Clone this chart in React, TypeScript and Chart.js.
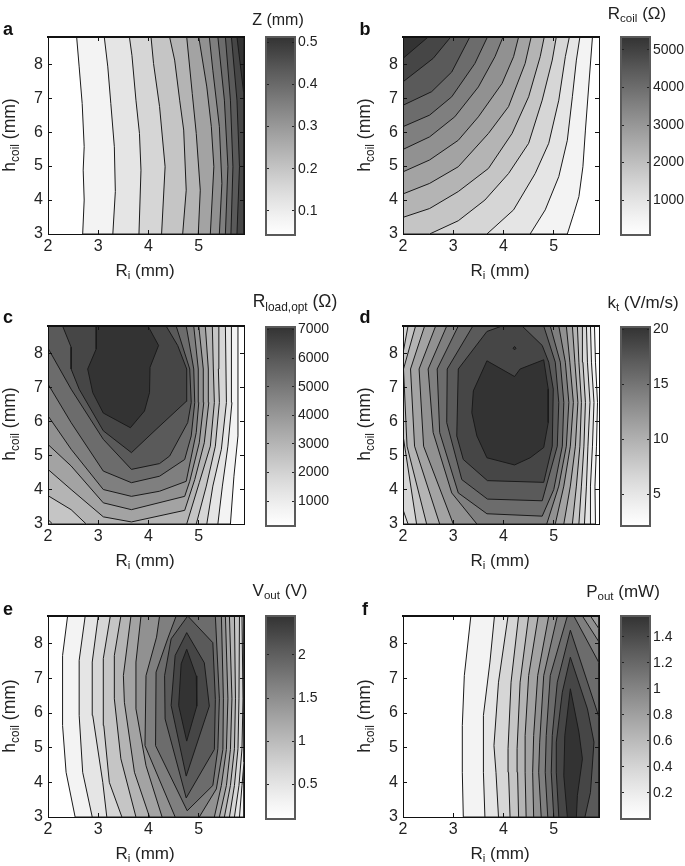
import React, { useEffect, useRef } from "react";
import { Chart, registerables } from "chart.js";

Chart.register(...registerables);

type P = number[];
const TL: P = [2, 8.8];
const TR: P = [5.9, 8.8];
const BL: P = [2, 3];
const BR: P = [5.9, 3];

const rTicks = [2, 3, 4, 5];
const hTicks = [3, 4, 5, 6, 7, 8];

// Each list holds the level curves of one panel, lowest level first.
const zContours: P[][] = [
  [[2.69,3],[2.72,4],[2.70,4.88],[2.72,5.57],[2.68,6.84],[2.62,7.92],[2.57,8.8],TR,BR],
  [[3.29,3],[3.34,4.25],[3.32,5.57],[3.25,6.84],[3.19,7.92],[3.12,8.8],TR,BR],
  [[3.81,3],[3.85,4.88],[3.82,5.96],[3.75,6.94],[3.67,8.26],[3.62,8.8],TR,BR],
  [[4.26,3],[4.33,4.98],[4.22,6.75],[4.10,8.02],[4.05,8.8],TR,BR],
  [[4.68,3],[4.75,4.29],[4.70,6.06],[4.62,6.94],[4.52,8.12],[4.42,8.8],TR,BR],
  [[4.99,3],[5.03,4.29],[4.95,5.96],[4.87,7.14],[4.76,8.8],TR,BR],
  [[5.23,3],[5.30,4.98],[5.25,6.16],[5.16,7.33],[5.00,8.8],TR,BR],
  [[5.41,3],[5.46,4.49],[5.41,6.16],[5.28,7.82],[5.21,8.8],TR,BR],
  [[5.53,3],[5.58,4.98],[5.51,6.94],[5.38,8.8],TR,BR],
  [[5.64,3],[5.68,4.98],[5.63,6.94],[5.53,8.8],TR,BR],
  [[5.76,3],[5.81,4.98],[5.76,6.94],[5.65,8.8],TR,BR],
  [[5.76,8.8],[5.89,7.2],TR],
];

const rcoilContours: P[][] = [
  [[5.27,3],[5.40,3.61],[5.50,4.10],[5.58,4.98],[5.63,6.06],[5.69,7.24],[5.77,8.8],TL,BL],
  [[4.53,3],[4.83,3.71],[5.10,4.69],[5.27,5.76],[5.37,7.04],[5.45,8.12],[5.52,8.8],TL,BL],
  [[3.67,3],[4.20,3.71],[4.63,4.78],[4.90,5.67],[5.10,6.94],[5.23,8.22],[5.31,8.8],TL,BL],
  [[2.53,3],[3.10,3.39],[3.63,4.0],[4.10,4.78],[4.50,5.67],[4.77,6.94],[4.97,8.12],[5.05,8.8],TL,BL],
  [[2,3.49],[2.53,3.75],[3.10,4.25],[3.70,4.93],[4.17,5.96],[4.50,7.04],[4.73,8.22],[4.81,8.8],TL],
  [[2,4.18],[2.53,4.49],[3.10,4.98],[3.70,5.96],[4.10,6.75],[4.43,8.02],[4.55,8.8],TL],
  [[2,4.83],[2.53,5.18],[3.10,5.76],[3.50,6.45],[3.97,7.43],[4.20,8.22],[4.30,8.8],TL],
  [[2,5.49],[2.53,5.86],[3.03,6.45],[3.50,7.33],[3.83,8.22],[3.99,8.8],TL],
  [[2,6.16],[2.53,6.5],[2.97,7.04],[3.43,8.02],[3.68,8.8],TL],
  [[2,6.79],[2.57,7.19],[2.97,7.77],[3.33,8.8],TL],
  [[2,7.48],[2.60,8.17],[2.95,8.8],TL],
  [[2,8.17],[2.50,8.8],TL],
];

const rloadContours: P[][] = [
  [BL,[5.63,3],[5.70,4.40],[5.78,5.58],[5.78,8.8],TL],
  [BL,[5.38,3],[5.47,4.11],[5.58,5.28],[5.66,6.56],[5.65,8.8],TL],
  [BL,[5.16,3],[5.28,4.11],[5.45,5.19],[5.55,6.56],[5.53,8.8],TL],
  [[2,3.13],[2.09,3],[4.95,3],[5.15,4.11],[5.33,5.28],[5.41,6.56],[5.39,7.54],[5.40,8.8],TL],
  [[2,3.83],[2.46,3.42],[2.76,3],[4.76,3],[5.01,4.21],[5.23,5.28],[5.31,6.56],[5.29,7.54],[5.27,8.8],TL],
  [[2,4.60],[2.46,4.01],[3.10,3.21],[3.66,3.06],[4.72,3.40],[4.80,3.76],[4.92,4.30],[5.11,5.38],[5.20,6.56],[5.19,7.54],[5.13,8.8],TL],
  [[2,5.33],[2.46,4.70],[3.10,3.62],[3.66,3.42],[4.72,3.81],[4.82,4.25],[5.01,5.38],[5.10,6.56],[5.09,7.54],[5.00,8.8],TL],
  [[2,6.17],[2.46,5.19],[3.10,4.01],[3.66,3.81],[4.22,3.96],[4.75,4.25],[4.95,5.68],[5.00,6.56],[4.99,7.54],[4.90,8.8],TL],
  [[2,7.10],[2.46,5.97],[3.10,4.55],[3.66,4.21],[4.22,4.40],[4.72,4.89],[4.85,5.58],[4.92,6.56],[4.90,7.54],[4.75,8.8],TL],
  [[2,8.15],[2.46,6.95],[3.10,5.48],[3.66,4.60],[4.22,4.77],[4.42,4.99],[4.78,5.97],[4.85,6.56],[4.82,7.54],[4.55,8.8],TL],
  [[2.29,8.8],[2.46,8.18],[2.46,7.54],[2.62,6.95],[3.10,5.73],[3.66,5.09],[4.15,5.77],[4.75,6.59],[4.76,7.54],[4.58,8.23],[4.35,8.8]],
  [[2.96,8.8],[2.96,8.13],[2.79,7.54],[2.89,6.85],[3.10,6.25],[3.64,5.82],[3.92,6.31],[4.02,6.85],[4.03,7.59],[4.20,8.23],[3.99,8.8]],
];

const ktContours: P[][] = [
  [BL,[5.83,3],[5.82,4.11],[5.85,5.28],[5.87,6.56],[5.83,7.74],[5.81,8.8],TL],
  [BL,[5.73,3],[5.73,4.11],[5.77,5.28],[5.80,6.56],[5.75,7.74],[5.73,8.8],TL],
  [[2,3.42],[2.10,3],[5.61,3],[5.65,4.11],[5.68,5.28],[5.72,6.56],[5.67,7.74],[5.65,8.8],TL],
  [[2.10,8.8],[2,8.0],[2,5.6],[2.27,3],[5.50,3],[5.55,4.11],[5.60,5.28],[5.63,6.56],[5.58,7.74],[5.57,8.8]],
  [[2.25,8.8],[2.01,7.54],[2.08,5.28],[2.47,3],[5.37,3],[5.45,4.11],[5.52,5.28],[5.55,6.56],[5.50,7.74],[5.47,8.8]],
  [[2.43,8.8],[2.15,7.54],[2.23,5.28],[2.73,3],[5.20,3],[5.33,4.11],[5.43,5.28],[5.48,6.56],[5.42,7.74],[5.37,8.8]],
  [[2.65,8.8],[2.32,7.54],[2.41,5.28],[3.00,3],[5.03,3],[5.20,4.11],[5.33,5.28],[5.39,6.56],[5.32,7.74],[5.25,8.8]],
  [[2.87,8.8],[2.50,7.54],[2.60,5.68],[2.97,3.91],[3.47,3],[4.86,3],[5.10,4.11],[5.25,5.28],[5.30,6.56],[5.23,7.74],[5.10,8.8]],
  [[3.10,8.8],[2.68,7.54],[2.73,5.68],[3.10,3.91],[3.67,3.30],[4.77,3.23],[5.00,4.01],[5.17,5.28],[5.20,6.56],[5.13,7.74],[4.93,8.8]],
  [[3.39,8.8],[2.88,7.54],[2.87,5.97],[3.17,4.30],[3.68,3.73],[4.77,3.68],[5.07,5.28],[5.10,6.56],[5.03,7.74],[4.80,8.8]],
  [[3.97,8.8],[3.67,8.64],[3.10,7.54],[3.07,5.58],[3.20,4.89],[3.68,4.27],[4.80,4.22],[4.97,5.28],[4.99,6.95],[4.90,7.74],[4.77,8.23],[4.37,8.8]],
  [[3.67,7.78],[4.22,7.32],[4.33,7.54],[4.80,7.81],[4.89,6.95],[4.89,5.97],[4.80,5.24],[4.53,4.94],[4.22,4.73],[3.67,4.94],[3.47,5.58],[3.37,6.26],[3.40,6.90]],
  [[4.19,8.15],[4.22,8.2],[4.25,8.15],[4.22,8.1]],
];

const voutContours: P[][] = [
  [[2.54,3],[2.36,4.29],[2.29,5.64],[2.29,7.66],[2.39,8.8],TR,BR],
  [[2.88,3],[2.69,4.29],[2.62,5.93],[2.62,7.52],[2.74,8.8],TR,[5.9,4.58],[5.86,3.91],[5.81,3]],
  [[3.17,3],[3.09,4.00],[2.89,5.93],[2.88,7.47],[3.00,8.8],[5.86,8.8],[5.88,6.41],[5.86,4.97],[5.80,3.91],[5.71,3]],
  [[3.47,3],[3.22,4.00],[3.11,5.64],[3.10,7.57],[3.24,8.8],[5.81,8.8],[5.80,6.41],[5.78,4.97],[5.71,3.91],[5.61,3]],
  [[3.75,3],[3.45,4.68],[3.32,6.41],[3.32,7.66],[3.45,8.8],[5.71,8.8],[5.73,6.41],[5.71,4.97],[5.63,3.91],[5.51,3]],
  [[4.02,3],[3.72,4.29],[3.52,6.31],[3.50,7.08],[3.65,8.8],[5.61,8.8],[5.66,6.41],[5.63,4.95],[5.55,3.91],[5.41,3]],
  [[4.27,3],[3.95,4.48],[3.75,6.12],[3.75,7.47],[3.85,8.8],[5.53,8.8],[5.58,6.41],[5.55,4.95],[5.45,3.91],[5.31,3]],
  [[4.53,3],[3.93,5.06],[3.95,7.08],[4.16,8.19],[4.22,8.8],[5.45,8.8],[5.49,6.41],[5.48,4.95],[5.35,3.81],[5.01,3]],
  [[4.77,3.18],[4.14,5.06],[4.15,7.18],[4.38,8.14],[4.55,8.8],[5.33,8.8],[5.41,6.41],[5.38,4.97],[5.28,3.91]],
  [[4.75,3.55],[4.33,5.83],[4.32,7.08],[4.45,8.14],[4.78,8.8],[5.28,8.03],[5.33,6.39],[5.31,4.95]],
  [[4.75,4.18],[4.45,6.22],[4.53,7.66],[4.76,8.32],[5.11,7.45],[5.21,6.20]],
  [[4.76,5.19],[4.60,6.22],[4.65,7.42],[4.76,7.84],[4.95,7.07],[4.96,6.20]],
];

const poutContours: P[][] = [
  [[3.20,3],[3.18,4.29],[3.18,5.64],[3.22,7.08],[3.35,8.8],TR,BR],
  [[3.63,3],[3.60,4.29],[3.60,5.93],[3.73,7.47],[3.82,8.8],TR,BR],
  [[3.90,3],[3.85,4.29],[3.81,5.06],[3.90,6.89],[4.09,8.8],TR,BR],
  [[4.13,3],[4.10,4.29],[4.09,4.97],[4.15,6.89],[4.30,8.8],TR,BR],
  [[4.30,3],[4.28,4.29],[4.27,4.97],[4.33,6.89],[4.50,8.8],TR,BR],
  [[4.45,3],[4.43,4.29],[4.43,5.35],[4.50,7.08],[4.69,8.8],TR,BR],
  [[4.60,3],[4.58,4.29],[4.60,5.35],[4.68,7.08],[4.90,8.8],[5.73,8.8],[5.9,8.43],BR],
  [[4.75,3],[4.70,4.29],[4.72,5.16],[4.80,7.08],[5.07,8.8],[5.57,8.8],[5.9,8.05],BR],
  [[4.88,3],[4.83,4.29],[4.85,5.35],[4.93,7.08],[5.27,8.8],[5.40,8.8],[5.9,7.45],BR],
  [[5.00,3],[4.95,4.29],[4.97,5.35],[5.07,6.89],[5.33,8.39],[5.9,5.88],BR],
  [[5.10,3],[5.05,4.29],[5.05,5.16],[5.17,6.60],[5.33,7.61],[5.67,6.12],[5.80,5.16],[5.73,3.71],[5.62,3]],
  [[5.27,3],[5.20,4.19],[5.22,5.35],[5.33,6.70],[5.50,5.45],[5.57,4.68],[5.47,3.62],[5.45,3]],
];

const zRange = [0.043, 0.512];
const rcoilRange = [73, 5344];
const rloadRange = [125, 7091];
const ktRange = [2.11, 20.24];
const voutRange = [0.1, 2.45];
const poutRange = [0, 1.56];

const zTicks = [0.1, 0.2, 0.3, 0.4, 0.5];
const rcoilTicks = [1000, 2000, 3000, 4000, 5000];
const rloadTicks = [1000, 2000, 3000, 4000, 5000, 6000, 7000];
const ktTicks = [5, 10, 15, 20];
const voutTicks = [0.5, 1, 1.5, 2];
const poutTicks = [0.2, 0.4, 0.6, 0.8, 1, 1.2, 1.4];

const FONT = "'Liberation Sans', Arial, sans-serif";
const TEXT = "#222";
const BANDS = 12;
const grayAt = (t: number) => {
  const g = Math.round(255 - 204 * Math.pow(Math.min(t, 1), 1.15));
  return `rgb(${g},${g},${g})`;
};
const bandGray = (k: number) => grayAt(k / BANDS);

const fixedTicks = (values: number[]) => (s: any) => {
  s.ticks = values.map((value) => ({ value }));
};
const fixedSize = (prop: "width" | "height", n: number) => (s: any) => {
  s[prop] = n;
  s.paddingTop = 0;
  s.paddingBottom = 0;
  s.paddingLeft = 0;
  s.paddingRight = 0;
};

function Plot({ box, contours }: { box: number[]; contours: P[][] }) {
  const ref = useRef<HTMLCanvasElement>(null);
  const [x0, x1, y0, y1] = box;
  const L = 42, R = 10, T = 10, B = 30;
  const W = x1 - x0 + L + R;
  const H = y1 - y0 + T + B;
  useEffect(() => {
    const tickGrid = { drawOnChartArea: false, tickLength: -4, tickWidth: 1, tickColor: "#111", z: 1 };
    const line = (width = 1) => ({ display: true, color: "#111", width, z: 2 });
    const font = { family: FONT, size: 16 };
    const datasets = contours
      .map((c, i) => ({
        data: [...c, c[0]].map(([x, y]) => ({ x, y })),
        showLine: true,
        fill: "shape",
        pointRadius: 0,
        borderColor: "#1a1a1a",
        borderWidth: 1,
        backgroundColor: bandGray(i + 1),
        xAxisID: "x",
        yAxisID: "y",
      }))
      .reverse();
    const chart = new Chart(ref.current!, {
      type: "scatter",
      data: { datasets } as any,
      options: {
        animation: false,
        responsive: false,
        devicePixelRatio: 1,
        layout: { padding: { left: 0, right: R, top: T, bottom: 0 } },
        plugins: { legend: { display: false }, tooltip: { enabled: false } },
        scales: {
          x: {
            type: "linear", position: "bottom", min: TL[0], max: TR[0],
            afterBuildTicks: fixedTicks(rTicks), afterFit: fixedSize("height", B),
            grid: tickGrid, border: line(1),
            ticks: { font, color: TEXT, padding: 7, maxRotation: 0, autoSkip: false, callback: (v: any) => String(v) },
          },
          x2: {
            type: "linear", position: "top", min: TL[0], max: TR[0],
            afterBuildTicks: fixedTicks(rTicks), afterFit: fixedSize("height", 0),
            grid: tickGrid, border: line(2), ticks: { display: false },
          },
          y: {
            type: "linear", position: "left", min: BL[1], max: TL[1],
            afterBuildTicks: fixedTicks(hTicks), afterFit: fixedSize("width", L),
            grid: tickGrid, border: line(1),
            ticks: { font, color: TEXT, padding: 9, autoSkip: false, callback: (v: any) => String(v) },
          },
          y2: {
            type: "linear", position: "right", min: BL[1], max: TL[1],
            afterBuildTicks: fixedTicks(hTicks), afterFit: fixedSize("width", 0),
            grid: tickGrid, border: line(1), ticks: { display: false },
          },
        },
      } as any,
    });
    return () => chart.destroy();
  }, []);
  return (
    <canvas
      ref={ref}
      width={W}
      height={H}
      style={{ position: "absolute", left: x0 - L, top: y0 - T, width: W, height: H }}
    />
  );
}

function Colorbar({ box, range, ticks }: { box: number[]; range: number[]; ticks: number[] }) {
  const ref = useRef<HTMLCanvasElement>(null);
  const [x0, x1, y0, y1] = box;
  const L = 5, R = 52, T = 10, B = 10;
  const W = x1 - x0 + L + R;
  const H = y1 - y0 + T + B;
  useEffect(() => {
    const edge = { display: true, color: "#5a5a5a", width: 2, z: 2 };
    const tickGrid = { drawOnChartArea: false, tickLength: -3, tickWidth: 1, tickColor: "#222", z: 1 };
    const hidden = { drawOnChartArea: false, drawTicks: false };
    const chart = new Chart(ref.current!, {
      type: "bar",
      data: {
        labels: [""],
        datasets: [
          {
            data: [range],
            barPercentage: 1,
            categoryPercentage: 1,
            borderWidth: 0,
            backgroundColor: (c: any) => {
              const a = c.chart.chartArea;
              if (!a) return "#888";
              const g = c.chart.ctx.createLinearGradient(0, a.bottom, 0, a.top);
              for (let i = 0; i <= BANDS; i++) g.addColorStop(i / BANDS, bandGray(i));
              return g;
            },
          },
        ],
      } as any,
      options: {
        animation: false,
        responsive: false,
        devicePixelRatio: 1,
        layout: { padding: { left: L, right: 0, top: T, bottom: B } },
        plugins: { legend: { display: false }, tooltip: { enabled: false } },
        scales: {
          x: {
            type: "category", position: "bottom", afterFit: fixedSize("height", 0),
            grid: hidden, border: edge, ticks: { display: false },
          },
          x2: {
            type: "category", position: "top", labels: [""], afterFit: fixedSize("height", 0),
            grid: hidden, border: edge, ticks: { display: false },
          },
          y: {
            type: "linear", position: "right", min: range[0], max: range[1],
            afterBuildTicks: fixedTicks(ticks), afterFit: fixedSize("width", R),
            grid: tickGrid, border: edge,
            ticks: { font: { family: FONT, size: 14 }, color: TEXT, padding: 6, autoSkip: false, callback: (v: any) => String(v) },
          },
          y2: {
            type: "linear", position: "left", min: range[0], max: range[1],
            afterBuildTicks: fixedTicks(ticks), afterFit: fixedSize("width", 0),
            grid: tickGrid, border: edge, ticks: { display: false },
          },
        },
      } as any,
    });
    return () => chart.destroy();
  }, []);
  return (
    <canvas
      ref={ref}
      width={W}
      height={H}
      style={{ position: "absolute", left: x0 - L, top: y0 - T, width: W, height: H }}
    />
  );
}

const Sub = ({ children }: { children: React.ReactNode }) => (
  <span style={{ fontSize: "0.68em", position: "relative", top: "0.3em" }}>{children}</span>
);

function Label({ x, y, rotate, bold, size = 17, children }: any) {
  return (
    <div
      style={{
        position: "absolute",
        left: x,
        top: y,
        transform: `translate(-50%,-50%)${rotate ? " rotate(-90deg)" : ""}`,
        whiteSpace: "nowrap",
        fontFamily: FONT,
        fontSize: size,
        fontWeight: bold ? 700 : 400,
        color: bold ? "#111" : TEXT,
        lineHeight: 1,
      }}
    >
      {children}
    </div>
  );
}

function Panel({ letter, lx, ly, plot, bar, contours, range, ticks, title, tx, ty, tsize }: any) {
  const [x0, x1, y0, y1] = plot;
  return (
    <>
      <Plot box={plot} contours={contours} />
      <Colorbar box={bar} range={range} ticks={ticks} />
      <Label x={lx} y={ly} bold size={18}>{letter}</Label>
      <Label x={(x0 + x1) / 2 - 1} y={y1 + 36}>
        R<Sub>i</Sub> (mm)
      </Label>
      <Label x={x0 - 38} y={(y0 + y1) / 2 - 1} size={17.5} rotate>
        h<Sub>coil</Sub> (mm)
      </Label>
      <Label x={tx} y={ty} size={tsize}>{title}</Label>
    </>
  );
}

export default function App() {
  return (
    <div style={{ position: "absolute", left: 0, top: 0, width: 685, height: 866, overflow: "hidden", background: "#fff" }}>
      <Panel letter="a" lx={8} ly={29} plot={[48, 244, 37, 234]} bar={[266, 295, 37, 235]}
        contours={zContours} range={zRange} ticks={zTicks} tx={278} ty={20} tsize={16} title={<>Z (mm)</>} />
      <Panel letter="b" lx={365} ly={29} plot={[403, 599, 37, 234]} bar={[621, 650, 37, 235]}
        contours={rcoilContours} range={rcoilRange} ticks={rcoilTicks} tx={637} ty={13} title={<>R<Sub>coil</Sub> (Ω)</>} />
      <Panel letter="c" lx={8} ly={317} plot={[48, 244, 326, 524]} bar={[266, 295, 327, 526]}
        contours={rloadContours} range={rloadRange} ticks={rloadTicks} tx={295} ty={302} tsize={17.5} title={<>R<Sub>load,opt</Sub> (Ω)</>} />
      <Panel letter="d" lx={365} ly={317} plot={[403, 599, 326, 524]} bar={[621, 650, 327, 526]}
        contours={ktContours} range={ktRange} ticks={ktTicks} tx={643} ty={302} title={<>k<Sub>t</Sub> (V/m/s)</>} />
      <Panel letter="e" lx={8} ly={609} plot={[48, 244, 616, 817]} bar={[266, 295, 616, 819]}
        contours={voutContours} range={voutRange} ticks={voutTicks} tx={280} ty={590} title={<>V<Sub>out</Sub> (V)</>} />
      <Panel letter="f" lx={365} ly={609} plot={[403, 599, 616, 817]} bar={[621, 650, 616, 819]}
        contours={poutContours} range={poutRange} ticks={poutTicks} tx={623} ty={591} title={<>P<Sub>out</Sub> (mW)</>} />
    </div>
  );
}
